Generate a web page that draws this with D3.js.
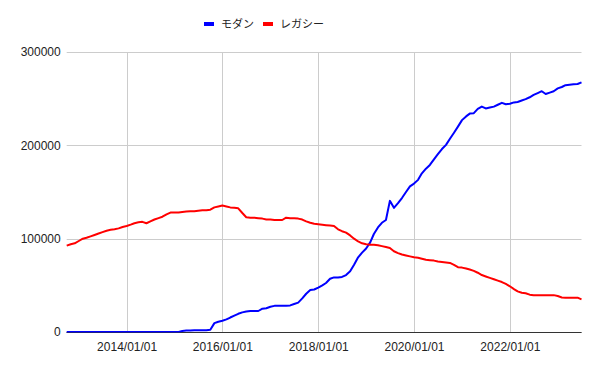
<!DOCTYPE html>
<html>
<head>
<meta charset="utf-8">
<script src="https://cdn.jsdelivr.net/npm/d3@7"></script>
<style>
body { margin:0; background:#fff; }
svg { display:block; font-family: "Liberation Sans", Arial, sans-serif; }
</style>
</head>
<body>
<svg id="chart"></svg>
<script>
/*
chart data
*/
var series_names = ["モダン", "レガシー"];
var series_colors = ["#0000ff", "#ff0000"];
var first_month = "2012-10-01";
var last_month = "2023-07-01";
var y_ticks = [0, 100000, 200000, 300000];
var x_ticks = ["2014-01-01", "2016-01-01", "2018-01-01", "2020-01-01", "2022-01-01"];

// モダン, one value per month
var modern = [
	0, 0, 0, 0, 0, 0, 0, 0, 0, 0, 0, 0,
	0, 0, 0, 0, 0, 0, 0, 0, 0, 0, 0, 0,
	0, 0, 0, 0, 0, 1000, 1500, 1500, 2000, 2000, 2000, 2000,
	2500, 9500, 11000, 12000, 13500, 15500, 17500, 19500, 21000, 22000, 22500, 22500,
	22500, 25000, 25500, 27000, 28000, 28000, 28000, 28000, 28500, 30000, 31500, 36000,
	41000, 45000, 45500, 47500, 50000, 52500, 57000, 58500, 58500, 59000, 61000, 65000,
	72000, 80000, 85000, 89500, 96000, 105000, 112000, 117000, 120000, 140500, 133000, 138000,
	143500, 150000, 156000, 159000, 163000, 170000, 175000, 179000, 185000, 190500, 196000, 200500,
	207000, 213500, 220000, 227000, 231000, 234000, 234500, 239000, 241500, 239500, 240500, 241500,
	243500, 245500, 244000, 244500, 246000, 246500, 248000, 249500, 251500, 254000, 256000, 258000,
	255000, 256500, 258000, 261000, 262500, 264500, 265000, 265500, 265700, 267500
];

// レガシー, one value per month
var legacy = [
	92500, 94000, 95000, 97500, 100000, 101000, 102500, 104000, 105500, 107000, 108500, 109500,
	110000, 111000, 112500, 113500, 115000, 116500, 117500, 118000, 116500, 118500, 120500, 122000,
	123500, 126000, 128000, 128000, 128000, 128500, 129000, 129500, 129500, 130000, 130500, 130500,
	131000, 133500, 134500, 135500, 134500, 133500, 133000, 132500, 127500, 123000, 122500, 122500,
	122000, 121500, 120500, 120500, 120000, 120000, 120000, 122500, 122000, 122000, 121500, 120500,
	118500, 117000, 116000, 115500, 115000, 114500, 114000, 113500, 110000, 108000, 106500, 103500,
	100000, 97000, 95000, 94000, 93500, 93500, 93000, 92000, 91000, 90000, 86500, 84500,
	83000, 82000, 81000, 80000, 79500, 78500, 77500, 77000, 76500, 75500, 75000, 74500,
	74000, 72000, 69500, 69000, 68000, 67000, 65500, 63500, 61000, 59500, 58000, 56500,
	55000, 53500, 51500, 49000, 46000, 43500, 42000, 41500, 40000, 39500, 39500, 39500,
	39500, 39500, 39500, 38500, 37000, 36800, 36800, 36800, 36800, 35000
];

var width = 600, height = 371;
var margin = {left: 66.7, right: 18.5, top: 52, bottom: 39};

var svg = d3.select("#chart")
	.attr("width", width)
	.attr("height", height);

var parse = d3.timeParse("%Y-%m-%d");
var months = d3.timeMonth.range(parse(first_month), d3.timeMonth.offset(parse(last_month), 1));

var x = d3.scaleTime()
	.domain([parse(first_month), parse(last_month)])
	.range([margin.left, width - margin.right]);
var y = d3.scaleLinear()
	.domain([0, 300000])
	.range([height - margin.bottom, margin.top]);

/*
grid lines
*/
svg.append("g")
	.attr("class", "ygrid")
	.selectAll("line")
	.data(y_ticks)
	.enter().append("line")
	.attr("x1", margin.left)
	.attr("x2", width - margin.right)
	.attr("y1", function(d){ return Math.round(y(d)) + 0.5; })
	.attr("y2", function(d){ return Math.round(y(d)) + 0.5; })
	.attr("stroke", function(d){ return d == 0 ? "#333" : "#cccccc"; })
	.attr("stroke-width", 1);

svg.append("g")
	.attr("class", "xgrid")
	.selectAll("line")
	.data(x_ticks.map(parse))
	.enter().append("line")
	.attr("x1", function(d){ return Math.round(x(d)) + 0.5; })
	.attr("x2", function(d){ return Math.round(x(d)) + 0.5; })
	.attr("y1", margin.top)
	.attr("y2", height - margin.bottom)
	.attr("stroke", "#cccccc")
	.attr("stroke-width", 1);

/*
axes (labels only, lines drawn above)
*/
var yAxis = d3.axisLeft(y)
	.tickValues(y_ticks)
	.tickFormat(d3.format("d"))
	.tickSize(0)
	.tickPadding(6);
var gy = svg.append("g")
	.attr("transform", "translate(" + margin.left + ",0)")
	.call(yAxis);
gy.select(".domain").remove();
gy.selectAll("text").attr("font-size", 12).attr("fill", "#222").attr("font-family", null);

var xAxis = d3.axisBottom(x)
	.tickValues(x_ticks.map(parse))
	.tickFormat(d3.timeFormat("%Y/%m/%d"))
	.tickSize(0)
	.tickPadding(10);
var gx = svg.append("g")
	.attr("transform", "translate(0," + (height - margin.bottom) + ")")
	.call(xAxis);
gx.select(".domain").remove();
gx.selectAll("text").attr("font-size", 12).attr("fill", "#222").attr("font-family", null);

/*
lines
*/
var line = d3.line()
	.x(function(d, i){ return x(months[i]); })
	.y(function(d){ return y(d); });

var all_series = [modern, legacy];
svg.append("g")
	.attr("class", "lines")
	.selectAll("path")
	.data(all_series)
	.enter().append("path")
	.attr("d", line)
	.attr("fill", "none")
	.attr("stroke", function(d, i){ return series_colors[i]; })
	.attr("stroke-width", 2)
	.attr("stroke-linejoin", "round");

// baseline on top of the flat blue part
svg.append("line")
	.attr("x1", margin.left)
	.attr("x2", width - margin.right)
	.attr("y1", Math.round(y(0)) + 0.5)
	.attr("y2", Math.round(y(0)) + 0.5)
	.attr("stroke", "#333")
	.attr("stroke-width", 1)
	.attr("opacity", 0.6);

/*
legend
*/
var legend = svg.append("g").attr("class", "legend");
var lx = 204;
var item_x = [204, 263];
for (var i = 0; i < series_names.length; i++){
	legend.append("rect")
		.attr("x", item_x[i])
		.attr("y", 22)
		.attr("width", 10)
		.attr("height", 4)
		.attr("fill", series_colors[i]);
	legend.append("text")
		.attr("x", item_x[i] + 17)
		.attr("y", 28)
		.attr("font-size", 11)
		.attr("fill", "#222")
		.attr("font-family", "'Noto Sans CJK JP', sans-serif")
		.text(series_names[i]);
}
</script>
</body>
</html>
